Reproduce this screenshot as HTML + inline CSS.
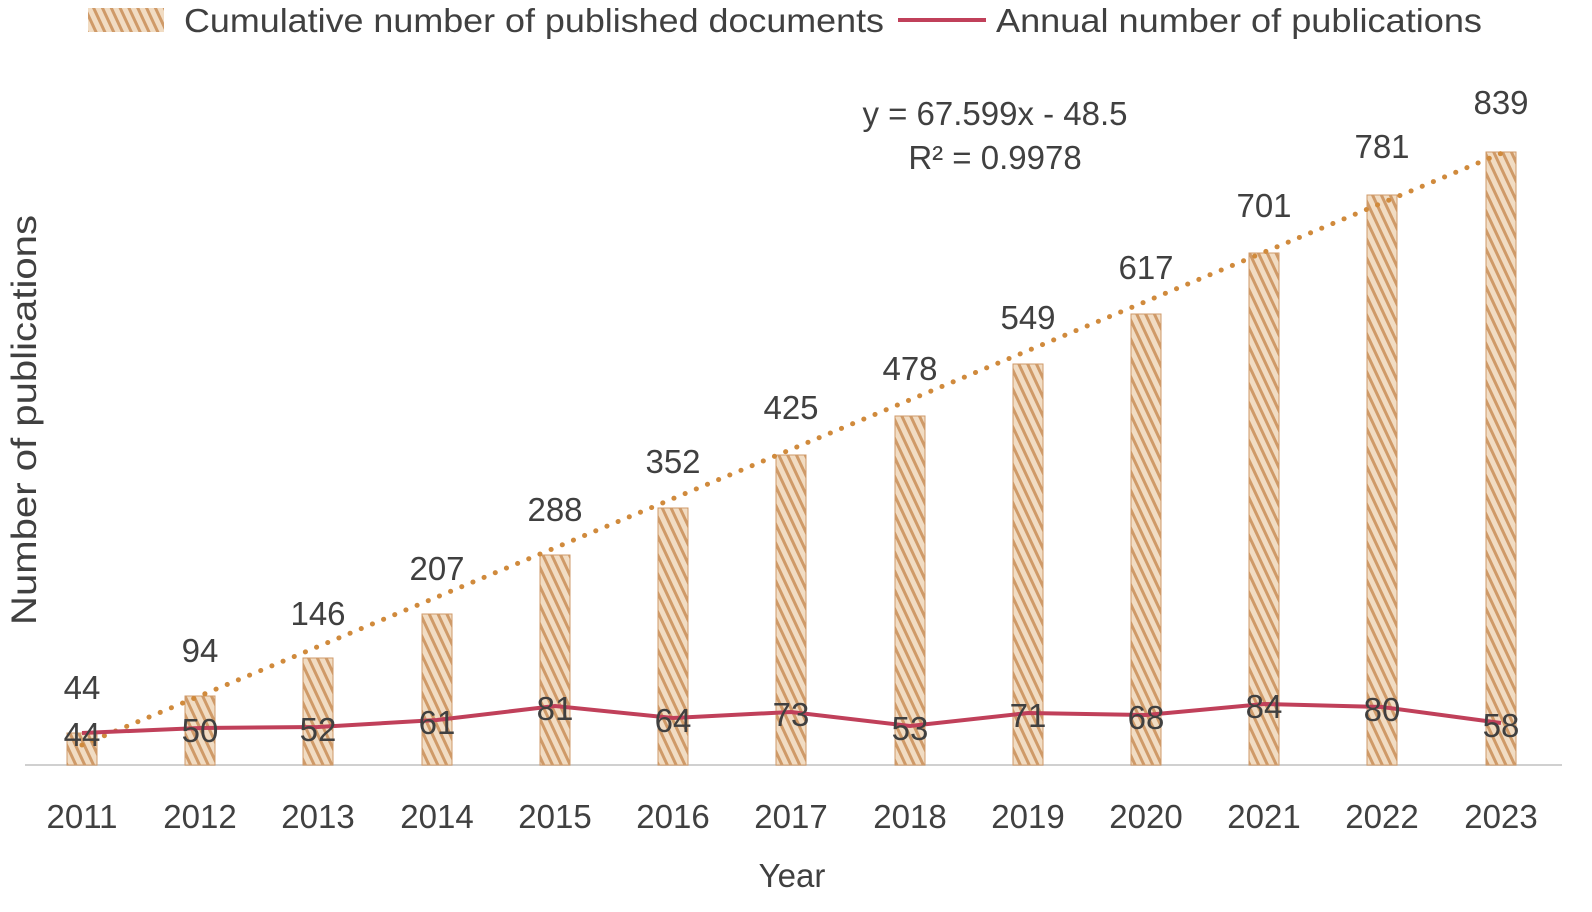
<!DOCTYPE html>
<html><head><meta charset="utf-8"><style>
html,body{margin:0;padding:0;background:#fff;}
svg text{font-family:"Liberation Sans",sans-serif;fill:#404040;}
</style></head><body>
<svg width="1592" height="907" viewBox="0 0 1592 907" xmlns="http://www.w3.org/2000/svg">
<defs>
<pattern id="h" width="8" height="8" patternUnits="userSpaceOnUse" patternTransform="rotate(-25)">
<rect width="8" height="8" fill="#f1dcc3"/>
<rect width="3" height="8" fill="#cf9a68"/>
</pattern>
</defs>
<!-- legend -->
<rect x="88" y="8" width="76" height="24" fill="url(#h)"/>
<text x="184" y="32" font-size="33" textLength="700" lengthAdjust="spacingAndGlyphs">Cumulative number of published documents</text>
<line x1="898" y1="20" x2="986" y2="20" stroke="#c0405a" stroke-width="4"/>
<text x="996" y="32" font-size="33" textLength="486" lengthAdjust="spacingAndGlyphs">Annual number of publications</text>
<!-- axis -->
<line x1="25" y1="765" x2="1562" y2="765" stroke="#d0d0d0" stroke-width="2"/>
<g fill="url(#h)" stroke="#cf9a68" stroke-width="1">
<rect x="67" y="733" width="30" height="32"/>
<rect x="185" y="696" width="30" height="69"/>
<rect x="303" y="658" width="30" height="107"/>
<rect x="422" y="614" width="30" height="151"/>
<rect x="540" y="555" width="30" height="210"/>
<rect x="658" y="508" width="30" height="257"/>
<rect x="776" y="455" width="30" height="310"/>
<rect x="895" y="416" width="30" height="349"/>
<rect x="1013" y="364" width="30" height="401"/>
<rect x="1131" y="314" width="30" height="451"/>
<rect x="1249" y="253" width="30" height="512"/>
<rect x="1367" y="195" width="30" height="570"/>
<rect x="1486" y="152" width="30" height="613"/>
</g>
<line x1="82" y1="745" x2="1502" y2="153" stroke="#d08a3c" stroke-width="5" stroke-dasharray="0.1 12" stroke-linecap="round"/>
<polyline fill="none" stroke="#c0405a" stroke-width="4" points="82,733 200,728 318,727 437,720 555,706 673,718 791,712 910,726 1028,713 1146,715 1264,704 1382,707 1501,723"/>
<g font-size="33" text-anchor="middle">
<text x="82" y="699">44</text><text x="200" y="662">94</text><text x="318" y="625">146</text><text x="437" y="580">207</text>
<text x="555" y="521">288</text><text x="673" y="473">352</text><text x="791" y="419">425</text><text x="910" y="380">478</text>
<text x="1028" y="329">549</text><text x="1146" y="279">617</text><text x="1264" y="217">701</text><text x="1382" y="158">781</text><text x="1501" y="114">839</text>
<text x="82" y="746">44</text><text x="200" y="742">50</text><text x="318" y="741">52</text><text x="437" y="734">61</text>
<text x="555" y="720">81</text><text x="673" y="732">64</text><text x="791" y="726">73</text><text x="910" y="740">53</text>
<text x="1028" y="727">71</text><text x="1146" y="729">68</text><text x="1264" y="718">84</text><text x="1382" y="721">80</text><text x="1501" y="737">58</text>
<text x="82" y="828">2011</text><text x="200" y="828">2012</text><text x="318" y="828">2013</text><text x="437" y="828">2014</text>
<text x="555" y="828">2015</text><text x="673" y="828">2016</text><text x="791" y="828">2017</text><text x="910" y="828">2018</text>
<text x="1028" y="828">2019</text><text x="1146" y="828">2020</text><text x="1264" y="828">2021</text><text x="1382" y="828">2022</text><text x="1501" y="828">2023</text>
<text x="792" y="887">Year</text>
<text x="995" y="125">y = 67.599x - 48.5</text>
<text x="995" y="169">R² = 0.9978</text>
</g>
<text transform="translate(36,420) rotate(-90)" font-size="35" text-anchor="middle" textLength="410" lengthAdjust="spacingAndGlyphs">Number of publications</text>
</svg>
</body></html>
